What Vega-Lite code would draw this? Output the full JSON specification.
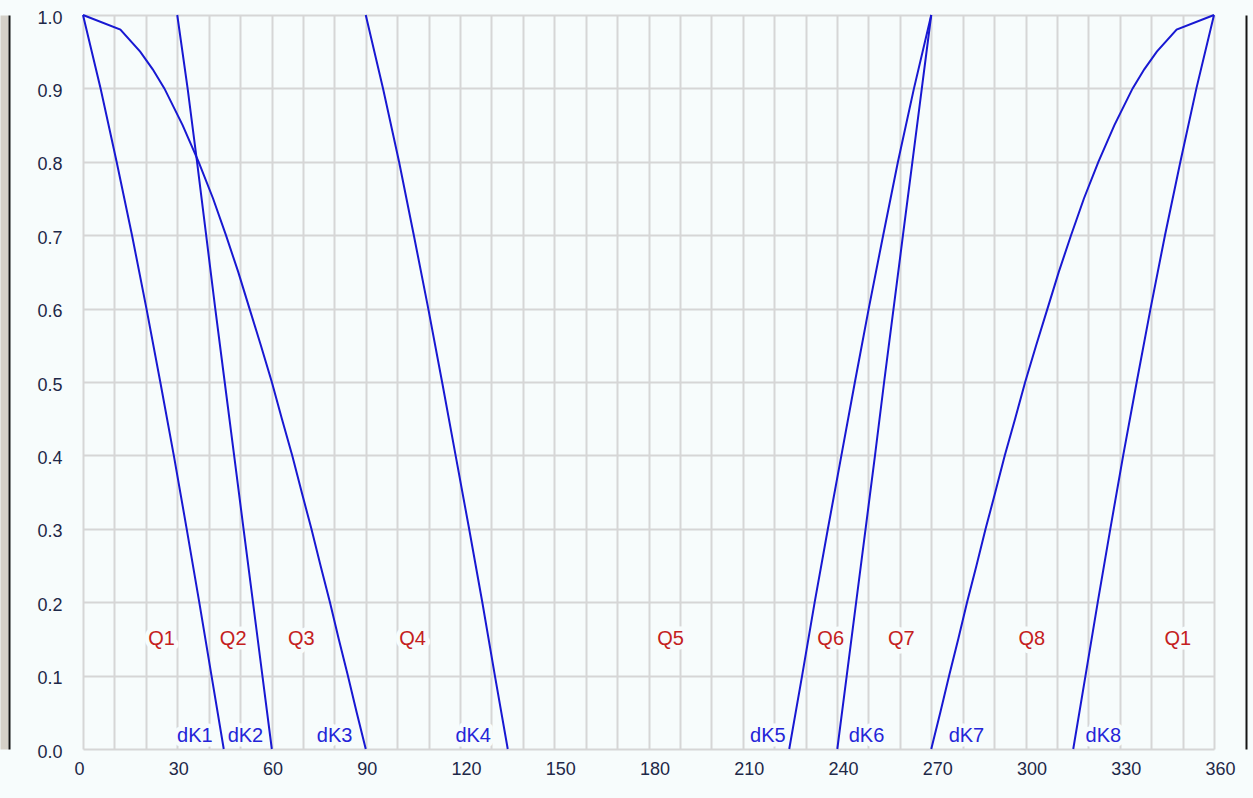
{
  "$schema": "https://vega.github.io/schema/vega-lite/v6.json",
  "width": 1131,
  "height": 734,
  "autosize": {"type": "none"},
  "padding": {"left": 83, "top": 15, "right": 39, "bottom": 49},
  "background": "#f7fcfc",
  "config": {
    "view": {"stroke": null},
    "axis": {
      "domain": false,
      "ticks": false,
      "gridColor": "#d6d6d6",
      "gridWidth": 2,
      "labelFont": "Liberation Sans",
      "labelFontSize": 18,
      "labelColor": "#1e2848",
      "labelFlush": false,
      "labelOverlap": false,
      "labelBound": false,
      "title": null
    }
  },
  "resolve": {"axis": {"y": "independent"}},
  "datasets": {
    "curves": [
      {"s": "dK1", "x": 0, "y": 1}, {"s": "dK1", "x": 5.6, "y": 0.9}, {"s": "dK1", "x": 10.7, "y": 0.8}, {"s": "dK1", "x": 15.6, "y": 0.7}, {"s": "dK1", "x": 20.2, "y": 0.6}, {"s": "dK1", "x": 24.6, "y": 0.5}, {"s": "dK1", "x": 28.9, "y": 0.4}, {"s": "dK1", "x": 33.0, "y": 0.3}, {"s": "dK1", "x": 37.0, "y": 0.2}, {"s": "dK1", "x": 40.9, "y": 0.1}, {"s": "dK1", "x": 44.8, "y": 0},
      {"s": "dK2", "x": 30, "y": 1}, {"s": "dK2", "x": 33.3, "y": 0.9}, {"s": "dK2", "x": 36.3, "y": 0.8}, {"s": "dK2", "x": 39.2, "y": 0.7}, {"s": "dK2", "x": 42.1, "y": 0.6}, {"s": "dK2", "x": 45.1, "y": 0.5}, {"s": "dK2", "x": 48.1, "y": 0.4}, {"s": "dK2", "x": 51.1, "y": 0.3}, {"s": "dK2", "x": 54.1, "y": 0.2}, {"s": "dK2", "x": 57.1, "y": 0.1}, {"s": "dK2", "x": 60.1, "y": 0},
      {"s": "dK3", "x": 0, "y": 1}, {"s": "dK3", "x": 11.9, "y": 0.98}, {"s": "dK3", "x": 18.2, "y": 0.95}, {"s": "dK3", "x": 22.2, "y": 0.926}, {"s": "dK3", "x": 25.9, "y": 0.9}, {"s": "dK3", "x": 31.7, "y": 0.85}, {"s": "dK3", "x": 36.8, "y": 0.8}, {"s": "dK3", "x": 41.4, "y": 0.75}, {"s": "dK3", "x": 45.5, "y": 0.7}, {"s": "dK3", "x": 49.4, "y": 0.65}, {"s": "dK3", "x": 53.0, "y": 0.6}, {"s": "dK3", "x": 56.6, "y": 0.55}, {"s": "dK3", "x": 60.1, "y": 0.5}, {"s": "dK3", "x": 63.3, "y": 0.45}, {"s": "dK3", "x": 66.6, "y": 0.4}, {"s": "dK3", "x": 69.6, "y": 0.35}, {"s": "dK3", "x": 72.7, "y": 0.3}, {"s": "dK3", "x": 75.6, "y": 0.25}, {"s": "dK3", "x": 78.6, "y": 0.2}, {"s": "dK3", "x": 81.4, "y": 0.15}, {"s": "dK3", "x": 84.3, "y": 0.1}, {"s": "dK3", "x": 87.1, "y": 0.05}, {"s": "dK3", "x": 90, "y": 0},
      {"s": "dK4", "x": 90, "y": 1}, {"s": "dK4", "x": 95.5, "y": 0.9}, {"s": "dK4", "x": 100.6, "y": 0.8}, {"s": "dK4", "x": 105.3, "y": 0.7}, {"s": "dK4", "x": 109.9, "y": 0.6}, {"s": "dK4", "x": 114.3, "y": 0.5}, {"s": "dK4", "x": 118.6, "y": 0.4}, {"s": "dK4", "x": 122.9, "y": 0.3}, {"s": "dK4", "x": 127.1, "y": 0.2}, {"s": "dK4", "x": 131.1, "y": 0.1}, {"s": "dK4", "x": 135.2, "y": 0},
      {"s": "dK5", "x": 224.8, "y": 0}, {"s": "dK5", "x": 228.9, "y": 0.1}, {"s": "dK5", "x": 232.9, "y": 0.2}, {"s": "dK5", "x": 237.1, "y": 0.3}, {"s": "dK5", "x": 241.4, "y": 0.4}, {"s": "dK5", "x": 245.7, "y": 0.5}, {"s": "dK5", "x": 250.1, "y": 0.6}, {"s": "dK5", "x": 254.7, "y": 0.7}, {"s": "dK5", "x": 259.4, "y": 0.8}, {"s": "dK5", "x": 264.5, "y": 0.9}, {"s": "dK5", "x": 270, "y": 1},
      {"s": "dK6", "x": 240.1, "y": 0}, {"s": "dK6", "x": 243.1, "y": 0.1}, {"s": "dK6", "x": 246.1, "y": 0.2}, {"s": "dK6", "x": 249.1, "y": 0.3}, {"s": "dK6", "x": 252.1, "y": 0.4}, {"s": "dK6", "x": 255.0, "y": 0.5}, {"s": "dK6", "x": 258.0, "y": 0.6}, {"s": "dK6", "x": 261.0, "y": 0.7}, {"s": "dK6", "x": 264.0, "y": 0.8}, {"s": "dK6", "x": 267.0, "y": 0.9}, {"s": "dK6", "x": 270, "y": 1},
      {"s": "dK7", "x": 270, "y": 0}, {"s": "dK7", "x": 272.9, "y": 0.05}, {"s": "dK7", "x": 275.7, "y": 0.1}, {"s": "dK7", "x": 278.6, "y": 0.15}, {"s": "dK7", "x": 281.4, "y": 0.2}, {"s": "dK7", "x": 284.4, "y": 0.25}, {"s": "dK7", "x": 287.3, "y": 0.3}, {"s": "dK7", "x": 290.4, "y": 0.35}, {"s": "dK7", "x": 293.4, "y": 0.4}, {"s": "dK7", "x": 296.7, "y": 0.45}, {"s": "dK7", "x": 299.9, "y": 0.5}, {"s": "dK7", "x": 303.4, "y": 0.55}, {"s": "dK7", "x": 307.0, "y": 0.6}, {"s": "dK7", "x": 310.6, "y": 0.65}, {"s": "dK7", "x": 314.5, "y": 0.7}, {"s": "dK7", "x": 318.6, "y": 0.75}, {"s": "dK7", "x": 323.2, "y": 0.8}, {"s": "dK7", "x": 328.3, "y": 0.85}, {"s": "dK7", "x": 334.1, "y": 0.9}, {"s": "dK7", "x": 337.8, "y": 0.926}, {"s": "dK7", "x": 341.8, "y": 0.95}, {"s": "dK7", "x": 348.1, "y": 0.98}, {"s": "dK7", "x": 360, "y": 1},
      {"s": "dK8", "x": 315.2, "y": 0}, {"s": "dK8", "x": 319.1, "y": 0.1}, {"s": "dK8", "x": 323.0, "y": 0.2}, {"s": "dK8", "x": 327.0, "y": 0.3}, {"s": "dK8", "x": 331.1, "y": 0.4}, {"s": "dK8", "x": 335.4, "y": 0.5}, {"s": "dK8", "x": 339.8, "y": 0.6}, {"s": "dK8", "x": 344.4, "y": 0.7}, {"s": "dK8", "x": 349.3, "y": 0.8}, {"s": "dK8", "x": 354.4, "y": 0.9}, {"s": "dK8", "x": 360, "y": 1}
    ],
    "qlabels": [
      {"t": "Q1", "x": 25.0, "y": 0.15}, {"t": "Q2", "x": 47.8, "y": 0.15}, {"t": "Q3", "x": 69.5, "y": 0.15}, {"t": "Q4", "x": 104.9, "y": 0.15}, {"t": "Q5", "x": 187, "y": 0.15}, {"t": "Q6", "x": 238, "y": 0.15}, {"t": "Q7", "x": 260.5, "y": 0.15}, {"t": "Q8", "x": 302, "y": 0.15}, {"t": "Q1", "x": 348.5, "y": 0.15}
    ],
    "klabels": [
      {"t": "dK1", "x": 35.6, "y": 0.018}, {"t": "dK2", "x": 51.7, "y": 0.018}, {"t": "dK3", "x": 80.1, "y": 0.018}, {"t": "dK4", "x": 124.2, "y": 0.018}, {"t": "dK5", "x": 218, "y": 0.018}, {"t": "dK6", "x": 249.4, "y": 0.018}, {"t": "dK7", "x": 281.2, "y": 0.018}, {"t": "dK8", "x": 324.8, "y": 0.018}
    ]
  },
  "encoding": {
    "x": {"field": "x", "type": "quantitative", "scale": {"domain": [0, 360], "nice": false, "zero": false},
      "axis": {"values": [0,10,20,30,40,50,60,70,80,90,100,110,120,130,140,150,160,170,180,190,200,210,220,230,240,250,260,270,280,290,300,310,320,330,340,350,360],
        "labelExpr": "datum.value % 30 === 0 ? datum.label : ''", "labelAlign": "left", "labelOffset": -9, "labelBaseline": "top", "labelPadding": 11}},
    "y": {"field": "y", "type": "quantitative", "scale": {"domain": [0, 1], "nice": false, "zero": false}, "axis": null}
  },
  "layer": [
    {
      "data": {"name": "qlabels"},
      "mark": {"type": "text", "font": "Liberation Sans", "fontSize": 20, "align": "center", "baseline": "middle", "stroke": "#f7fcfc", "strokeWidth": 9, "strokeJoin": "round", "fill": "#f7fcfc"},
      "encoding": {
        "text": {"field": "t"},
        "y": {"field": "y", "type": "quantitative", "axis": {"values": [0,0.1,0.2,0.3,0.4,0.5,0.6,0.7,0.8,0.9,1], "format": ".1f", "labelAlign": "right", "labelBaseline": "middle", "labelOffset": 3, "labelPadding": 21}}
      }
    },
    {
      "data": {"name": "klabels"},
      "mark": {"type": "text", "font": "Liberation Sans", "fontSize": 20, "align": "center", "baseline": "middle", "stroke": "#f7fcfc", "strokeWidth": 9, "strokeJoin": "round", "fill": "#f7fcfc"},
      "encoding": {
        "text": {"field": "t"},
        "y": {"field": "y", "type": "quantitative", "axis": {"orient": "left", "offset": 79, "domain": true, "domainColor": "#d4d0c8", "domainWidth": 8, "labels": false, "grid": false}}
      }
    },
    {
      "data": {"name": "curves"},
      "mark": {"type": "line", "color": "#1818d2", "strokeWidth": 2},
      "encoding": {
        "detail": {"field": "s"},
        "y": {"field": "y", "type": "quantitative", "axis": {"orient": "left", "offset": 74, "domain": true, "domainColor": "#151515", "domainWidth": 2, "labels": false, "grid": false}}
      }
    },
    {
      "data": {"name": "qlabels"},
      "mark": {"type": "text", "font": "Liberation Sans", "fontSize": 20, "align": "center", "baseline": "middle", "color": "#c42020"},
      "encoding": {
        "text": {"field": "t"},
        "y": {"field": "y", "type": "quantitative", "axis": {"orient": "right", "offset": 32, "domain": true, "domainColor": "#151515", "domainWidth": 2, "labels": false, "grid": false}}
      }
    },
    {
      "data": {"name": "klabels"},
      "mark": {"type": "text", "font": "Liberation Sans", "fontSize": 20, "align": "center", "baseline": "middle", "color": "#2424d8"},
      "encoding": {"text": {"field": "t"}}
    }
  ]
}
